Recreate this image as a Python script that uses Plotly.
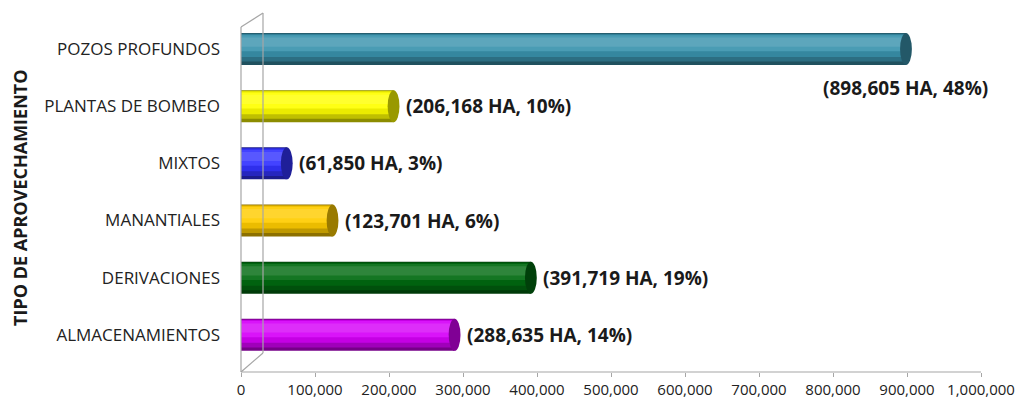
import plotly.graph_objects as go

categories = ["ALMACENAMIENTOS", "DERIVACIONES", "MANANTIALES", "MIXTOS",
              "PLANTAS DE BOMBEO", "POZOS PROFUNDOS"]
hectares = [288635, 391719, 123701, 61850, 206168, 898605]
percents = [14, 19, 6, 3, 10, 48]
tick_vals = [0, 100000, 200000, 300000, 400000, 500000, 600000, 700000, 800000, 900000, 1000000]
tick_text = ["0", "100,000", "200,000", "300,000", "400,000", "500,000",
             "600,000", "700,000", "800,000", "900,000", "1,000,000"]

base_colors = ["#d600f8", "#006a10", "#ffcc00", "#3333ff", "#ffff00", "#3a93ad"]


def hex2rgb(h):
    h = h.lstrip("#")
    return tuple(int(h[i:i + 2], 16) for i in (0, 2, 4))


def mix(h, t, k):
    a = hex2rgb(h)
    b = (255, 255, 255) if t == "w" else (0, 0, 0)
    c = tuple(round(a[j] * (1 - k) + b[j] * k) for j in range(3))
    return "rgb(%d,%d,%d)" % c


# shading layers for cylinder look: (bottom offset, top offset, tone, amount)
layers = [(-0.28, 0.28, "k", 0.45),
          (-0.22, 0.27, "k", 0.25),
          (-0.14, 0.26, "k", 0.08),
          (-0.04, 0.24, "w", 0.08),
          (0.04, 0.20, "w", 0.18)]

fig = go.Figure()
ys = list(range(len(categories)))
for (lo, hi, tone, k) in layers:
    fig.add_trace(go.Bar(y=ys, x=hectares, orientation="h", width=hi - lo, offset=lo,
                         marker=dict(color=[mix(c, tone, k) for c in base_colors],
                                     line=dict(width=0)),
                         hoverinfo="skip", showlegend=False))

shapes = []
cap = 8000
for i, v in enumerate(hectares):
    shapes.append(dict(type="circle", xref="x", yref="y",
                       x0=v - cap, x1=v + cap, y0=i - 0.28, y1=i + 0.28,
                       fillcolor=mix(base_colors[i], "k", 0.4), line=dict(width=0), layer="above"))

# page is offset by the 8px body margin; work in figure pixels
plot_l, plot_r, plot_t, plot_b = 233, 973, 5, 364


def xp(x):
    return (x - 8 - plot_l) / (plot_r - plot_l)


def yp(y):
    return (plot_b - (y - 8)) / (plot_b - plot_t)


wall = dict(color="#a6a6a6", width=1.2)
for (x0, y0, x1, y1) in [(241, 27, 241, 372), (263, 13, 263, 353), (241, 27, 263, 13),
                         (241, 372, 263, 353), (241, 372, 981, 372)]:
    shapes.append(dict(type="line", xref="paper", yref="paper",
                       x0=xp(x0), x1=xp(x1), y0=yp(y0), y1=yp(y1), line=wall))

annotations = []
lab_font = dict(family="Open Sans", size=19, color="#1a1a1a")
for i, (v, p) in enumerate(zip(hectares, percents)):
    text = f"<b>({v:,} HA, {p}%)</b>"
    if i == len(hectares) - 1:
        annotations.append(dict(x=v, y=i - 0.68, text=text, showarrow=False,
                                xanchor="center", yanchor="middle", font=lab_font))
    else:
        annotations.append(dict(x=v, y=i, text=text, showarrow=False, xshift=10,
                                xanchor="left", yanchor="middle", font=lab_font))

annotations.append(dict(x=xp(20), y=yp(198), xref="paper", yref="paper",
                        text="<b>TIPO DE APROVECHAMIENTO</b>", textangle=-90,
                        showarrow=False, xanchor="center", yanchor="middle",
                        font=dict(family="Open Sans", size=18, color="#1a1a1a")))

fig.update_layout(
    width=1024, height=400,
    margin=dict(l=plot_l, r=1024 - plot_r, t=plot_t, b=400 - plot_b, autoexpand=False),
    barmode="overlay",
    plot_bgcolor="white", paper_bgcolor="white",
    shapes=shapes, annotations=annotations,
    font=dict(family="Open Sans", color="#222222"),
    xaxis=dict(range=[0, 1000000], tickvals=tick_vals, ticktext=tick_text,
               showgrid=False, zeroline=False, showline=False, automargin=False,
               ticks="outside", ticklen=4, tickcolor="#a6a6a6",
               tickfont=dict(family="Open Sans", size=15, color="#222222")),
    yaxis=dict(range=[-0.65, 5.63], tickvals=ys, ticktext=categories,
               showgrid=False, zeroline=False, showline=False, automargin=False,
               ticks="", ticklabelstandoff=20,
               tickfont=dict(family="Open Sans", size=17, color="#222222")),
)

fig.write_html("out.html")
